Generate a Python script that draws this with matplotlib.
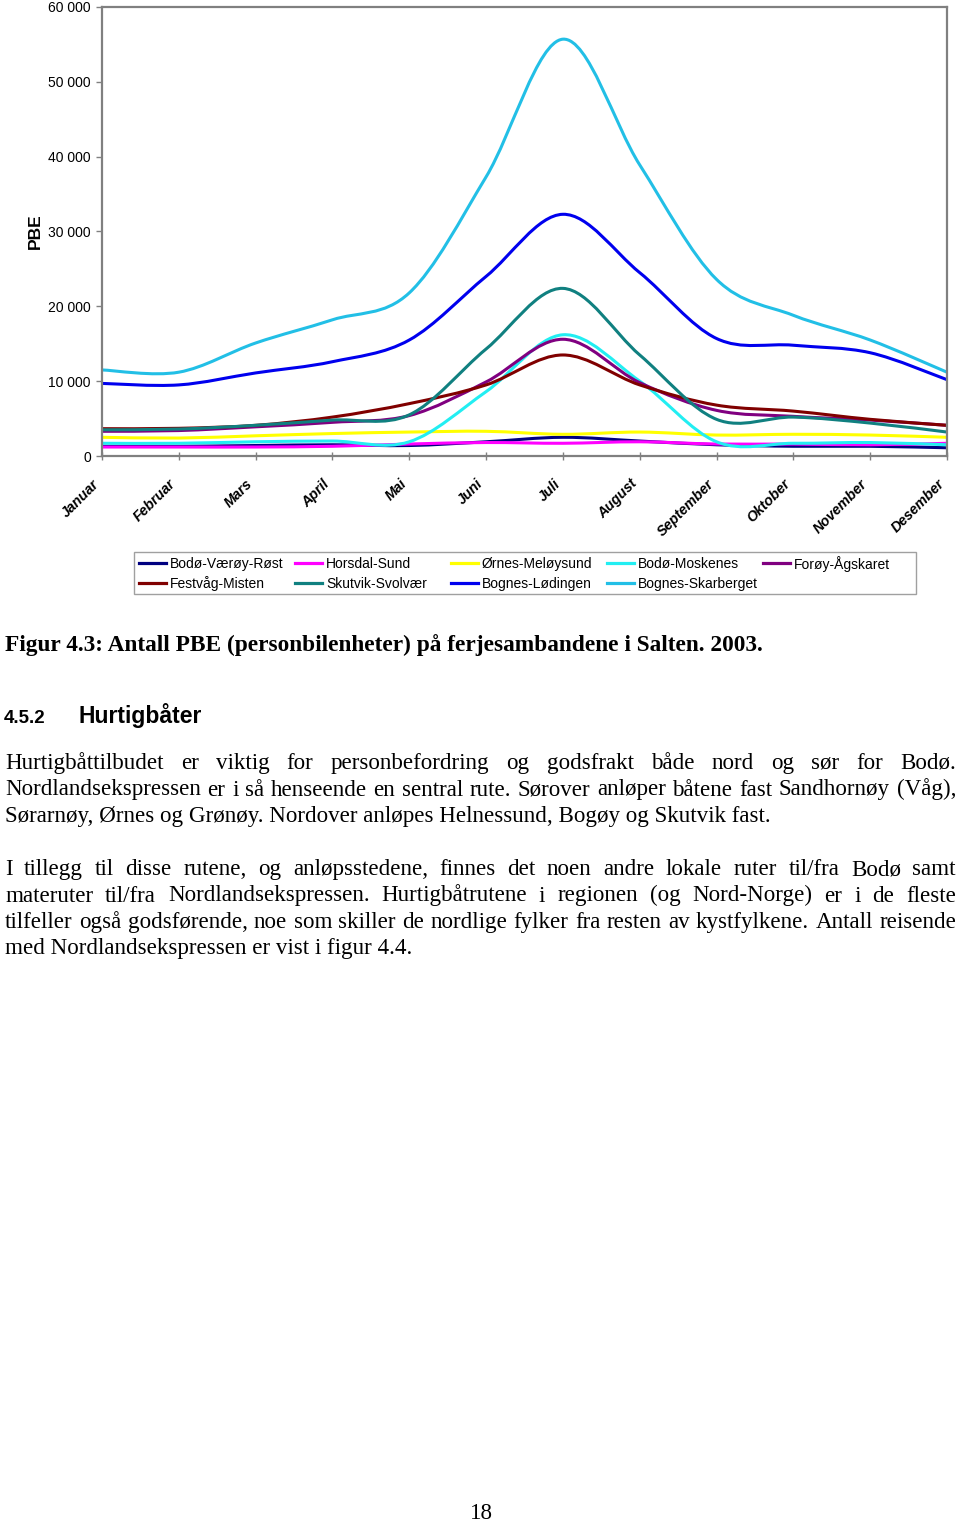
import matplotlib
matplotlib.use('Agg')
import matplotlib.pyplot as plt
import matplotlib.transforms as mtransforms
import numpy as np
from matplotlib.path import Path
from matplotlib.patches import PathPatch, Rectangle
from matplotlib.lines import Line2D

# --- data (PBE per month) ---
months = ['Januar', 'Februar', 'Mars', 'April', 'Mai', 'Juni', 'Juli',
          'August', 'September', 'Oktober', 'November', 'Desember']

routes = ['Bodø-Værøy-Røst', 'Horsdal-Sund', 'Ørnes-Meløysund', 'Bodø-Moskenes',
          'Forøy-Ågskaret', 'Festvåg-Misten', 'Skutvik-Svolvær', 'Bognes-Lødingen',
          'Bognes-Skarberget']

bodo_varoy_rost = [1300, 1300, 1400, 1500, 1400, 1900, 2500, 2000, 1500, 1300, 1300, 1100]
horsdal_sund = [1200, 1200, 1200, 1300, 1600, 1800, 1700, 1900, 1600, 1600, 1500, 1700]
ornes_meloysund = [2500, 2400, 2700, 3000, 3200, 3300, 2900, 3200, 2800, 2900, 2800, 2500]
bodo_moskenes = [1700, 1700, 1900, 2000, 1900, 8600, 16200, 10000, 1900, 1700, 1800, 1500]
foroy_agskaret = [3300, 3400, 3900, 4500, 5400, 9900, 15600, 9800, 6100, 5300, 4800, 4100]
festvag_misten = [3650, 3700, 4100, 5200, 7000, 9500, 13500, 9500, 6800, 6000, 4900, 4100]
skutvik_svolvar = [3500, 3600, 4100, 4800, 5500, 14300, 22400, 13500, 4900, 5200, 4400, 3200]
bognes_lodingen = [9700, 9500, 11100, 12600, 15500, 24000, 32300, 24500, 15700, 14800, 13800, 10200]
bognes_skarberget = [11500, 11200, 15100, 18200, 21800, 37300, 55700, 38900, 23600, 18800, 15500, 11200]

series = [bodo_varoy_rost, horsdal_sund, ornes_meloysund, bodo_moskenes, foroy_agskaret,
          festvag_misten, skutvik_svolvar, bognes_lodingen, bognes_skarberget]
colors = ['#000080', '#FF00FF', '#FFFF00', '#22EEF2', '#800080',
          '#800000', '#108080', '#0000EE', '#22BFE6']

W, H = 960, 1521
fig = plt.figure(figsize=(W / 100, H / 100), dpi=100)


def fx(x):
    return x / W


def fy(y):
    return 1 - y / H


def smooth_path(xs, ys):
    # Excel-style smoothed line: cubic bezier through every point
    p = np.column_stack([xs, ys]).astype(float)
    ext = np.vstack([p[0], p, p[-1]])
    verts = [p[0]]
    codes = [Path.MOVETO]
    for i in range(len(p) - 1):
        p0, p1, p2, p3 = ext[i], ext[i + 1], ext[i + 2], ext[i + 3]
        verts += [p1 + (p2 - p0) / 6, p2 - (p3 - p1) / 6, p2]
        codes += [Path.CURVE4] * 3
    return Path(verts, codes)


ax = fig.add_axes([fx(102), fy(456), fx(947) - fx(102), (456 - 7) / H])
x = np.arange(len(months))
for vals, c in zip(series, colors):
    ax.add_patch(PathPatch(smooth_path(x, vals), facecolor='none', edgecolor=c,
                           lw=2.2, capstyle='round', joinstyle='round'))

ax.set_xlim(0, len(months) - 1)
ax.set_ylim(0, 60000)
yt = np.arange(0, 60001, 10000)
ax.set_yticks(yt)
ax.set_yticklabels([f'{v:,}'.replace(',', ' ') for v in yt],
                   fontsize=10, family='Liberation Sans')
ax.set_xticks(x)
ax.set_xticklabels(months, rotation=45, ha='right', fontsize=10.3,
                   family='Liberation Sans', fontweight='bold', fontstyle='italic')
shift = mtransforms.ScaledTranslation(-4 / 100, 0, fig.dpi_scale_trans)
for lab in ax.get_xticklabels():
    lab.set_transform(lab.get_transform() + shift)
ax.tick_params(axis='y', direction='out', length=4, width=1, color='#808080', pad=4)
ax.tick_params(axis='x', direction='inout', length=6, width=1, color='#808080', pad=12)
for s in ax.spines.values():
    s.set_color('#808080')
    s.set_linewidth(1.6)
ax.set_ylabel('PBE', fontsize=12.5, fontweight='bold', family='Liberation Sans', labelpad=4)

# legend box (Excel style, row-wise)
fig.add_artist(Rectangle((fx(134), fy(594)), fx(916) - fx(134), (594 - 552) / H,
                         transform=fig.transFigure, facecolor='white',
                         edgecolor='#A0A0A0', lw=1))
for i, (name, c) in enumerate(zip(routes, colors)):
    row, col = divmod(i, 5)
    tx = 170 + 156 * col
    ty = 563 + 20 * row
    fig.add_artist(Line2D([fx(tx - 31), fx(tx - 4)], [fy(ty), fy(ty)],
                          transform=fig.transFigure, color=c, lw=2.3))
    fig.text(fx(tx), fy(ty + 1), name, fontsize=10, family='Liberation Sans',
             va='center', ha='left')

# --- page text ---
serif = 'Liberation Serif'
body_size = 16.6
fig.text(fx(5), fy(651), 'Figur 4.3: Antall PBE (personbilenheter) på ferjesambandene i Salten. 2003.',
         family=serif, fontweight='bold', fontsize=16.8, va='baseline')
fig.text(fx(4), fy(723), '4.5.2', family='Liberation Sans', fontweight='bold',
         fontsize=13.5, va='baseline')
fig.text(fx(78), fy(723), 'Hurtigbåter', family='Liberation Sans', fontweight='bold',
         fontsize=16.5, va='baseline')

renderer = fig.canvas.get_renderer()


def put_line(text, y, justify, left=5, right=956):
    if not justify:
        fig.text(fx(left), fy(y), text, family=serif, fontsize=body_size, va='baseline')
        return
    words = text.split()
    items = [fig.text(0, fy(y), w, family=serif, fontsize=body_size, va='baseline')
             for w in words]
    widths = [t.get_window_extent(renderer).width for t in items]
    gap = (right - left - sum(widths)) / (len(words) - 1)
    pos = left
    for t, w in zip(items, widths):
        t.set_x(fx(pos))
        pos += w + gap


para1 = ['Hurtigbåttilbudet er viktig for personbefordring og godsfrakt både nord og sør for Bodø.',
         'Nordlandsekspressen er i så henseende en sentral rute. Sørover anløper båtene fast Sandhornøy (Våg),',
         'Sørarnøy, Ørnes og Grønøy. Nordover anløpes Helnessund, Bogøy og Skutvik fast.']
para2 = ['I tillegg til disse rutene, og anløpsstedene, finnes det noen andre lokale ruter til/fra Bodø samt',
         'materuter til/fra Nordlandsekspressen. Hurtigbåtrutene i regionen (og Nord-Norge) er i de fleste',
         'tilfeller også godsførende, noe som skiller de nordlige fylker fra resten av kystfylkene. Antall reisende',
         'med Nordlandsekspressen er vist i figur 4.4.']

for i, line in enumerate(para1):
    put_line(line, 769 + 26.5 * i, i < len(para1) - 1)
for i, line in enumerate(para2):
    put_line(line, 875 + 26.5 * i, i < len(para2) - 1)

fig.text(fx(481), fy(1519), '18', family=serif, fontsize=body_size, va='baseline', ha='center')

fig.savefig('out.png', dpi=100)
